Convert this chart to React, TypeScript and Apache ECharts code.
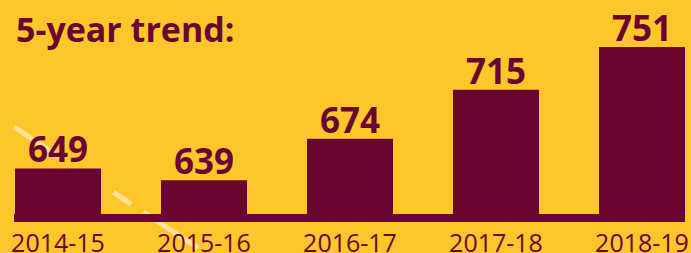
import React, { useEffect, useRef } from "react";
import * as echarts from "echarts";

const categories = ["2014-15", "2015-16", "2016-17", "2017-18", "2018-19"];
const enrollment = [649, 639, 674, 715, 751];
const titleText = "5-year trend:";

const MAROON = "#6A0532";
const GOLD = "#FFC62B";

export default function App() {
  const ref = useRef<HTMLDivElement>(null);
  useEffect(() => {
    if (!ref.current) return;
    const chart = echarts.init(ref.current, null, { renderer: "svg" });
    chart.setOption({
      animation: false,
      backgroundColor: GOLD,
      textStyle: { fontFamily: "Open Sans" },
      grid: {
        left: -15,
        right: -24,
        top: 47,
        bottom: 31,
        containLabel: false,
        outerBoundsMode: "none",
      },
      xAxis: {
        type: "category",
        data: categories,
        z: 5,
        axisLine: { show: false },
        axisTick: { show: false },
        axisLabel: {
          color: MAROON,
          fontFamily: "Open Sans",
          fontSize: 25,
          lineHeight: 20,
          margin: 10,
        },
      },
      yAxis: {
        type: "value",
        min: 604,
        max: 751,
        show: false,
        splitLine: { show: false },
      },
      graphic: [
        {
          type: "text",
          left: 16,
          top: 12,
          z: 10,
          style: {
            text: titleText,
            fill: MAROON,
            font: "bold 34px 'Open Sans'",
          },
        },
        {
          type: "line",
          z: 1,
          shape: { x1: 14, y1: 127, x2: 198, y2: 248 },
          style: {
            stroke: "#FFE39A",
            lineWidth: 5,
            lineDash: [59, 60, 21, 15, 68, 200],
          },
        },
        {
          type: "rect",
          z: 2,
          shape: { x: 14, y: 214, width: 671, height: 8 },
          style: { fill: MAROON },
        },
      ],
      series: [
        {
          type: "bar",
          data: enrollment,
          barWidth: 86,
          z: 3,
          itemStyle: { color: MAROON },
          label: {
            show: true,
            position: "top",
            distance: 2,
            color: MAROON,
            fontFamily: "Open Sans",
            fontWeight: "bold",
            fontSize: 35,
          },
        },
      ],
    });
    return () => chart.dispose();
  }, []);
  return (
    <div
      ref={ref}
      style={{ position: "absolute", left: 0, top: 0, width: 691, height: 253 }}
    />
  );
}
